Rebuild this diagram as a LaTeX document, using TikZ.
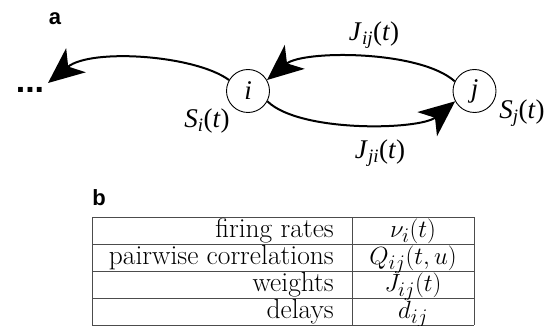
\documentclass[tikz,border=0pt]{standalone}
\usepackage{fontspec}
\usetikzlibrary{arrows.meta}
\newfontfamily\timesfam{Liberation Serif}
\newfontfamily\helvfam{Liberation Sans}
\begin{document}
\begin{tikzpicture}[x=1pt,y=-1pt,
  neuron/.style={circle,draw,line width=0.9pt,minimum size=43pt,inner sep=0pt,font=\timesfam\fontsize{27}{27}\selectfont\itshape},
  syn/.style={line width=2pt,-{Stealth[length=36pt,width=31pt,inset=10pt]}},
  lbl/.style={font=\timesfam\fontsize{27}{27}\selectfont\upshape,inner sep=0pt},
  panel/.style={font=\helvfam\fontsize{22}{22}\selectfont\bfseries,inner sep=0pt},
  cellL/.style={font=\fontsize{27.5}{33}\selectfont,anchor=base east,inner sep=0pt},
  cellR/.style={font=\fontsize{27.5}{33}\selectfont,anchor=base,inner sep=0pt},
  rule/.style={line width=1pt,draw=black!70}]
\useasboundingbox (0,0) rectangle (549,326);
% panel a
\node[panel] (pa) at (55,19) {a};
\node[neuron] (i) at (248,91) {i};
\node[neuron] (j) at (474.5,91) {j};
\node[font=\helvfam\fontsize{34}{34}\selectfont\bfseries,inner sep=0pt,anchor=base] (dots) at (30,93) {...};
\coordinate (e) at (48,83);
\draw[syn] (i.150) .. controls (195,55) and (91,48) .. (e);
\draw[syn] (j.154) .. controls (420,50) and (303,50) .. (i.30);
\draw[syn] (i.-28) .. controls (300,133) and (420,130) .. (j.-152);
\node[lbl] (jij) at (374,35) {\textit{J}\textsubscript{\textit{ij}}(\textit{t})};
\node[lbl] (jji) at (380,153) {\textit{J}\textsubscript{\textit{ji}}(\textit{t})};
\node[lbl] (si) at (207,121) {\textit{S}\textsubscript{\textit{i}}(\textit{t})};
\node[lbl] (sj) at (522,113) {\textit{S}\textsubscript{\textit{j}}(\textit{t})};
% panel b
\node[panel] (pb) at (99,198) {b};
\foreach \y in {217,244,271,298,325}
  \draw[rule] (92,\y) -- (474,\y);
\draw[rule] (92,217) -- (92,325);
\draw[rule] (352,217) -- (352,325);
\draw[rule] (474,217) -- (474,325);
\node[cellL] (l1) at (334,237) {firing rates};
\node[cellL] (l2) at (334,264) {pairwise correlations};
\node[cellL] (l3) at (334,291) {weights};
\node[cellL] (l4) at (334,318) {delays};
\node[cellR] (v1) at (413,237) {$\nu_i(t)$};
\node[cellR] (v2) at (413,264) {$Q_{ij}(t,u)$};
\node[cellR] (v3) at (413,291) {$J_{ij}(t)$};
\node[cellR] (v4) at (413,318) {$d_{ij}$};
\end{tikzpicture}
\end{document}
